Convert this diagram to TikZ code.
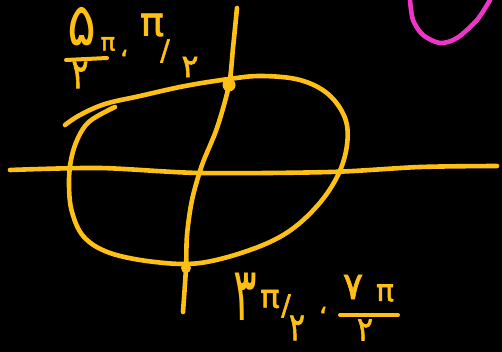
\documentclass[tikz,border=0pt]{standalone}
\usepackage{fontspec}
\newfontfamily\pf[Script=Arabic]{DejaVu Sans}
\newfontfamily\pft[Script=Arabic,FakeBold=1.8]{DejaVu Sans}
\definecolor{ink}{RGB}{255,192,22}
\definecolor{pinkink}{RGB}{240,52,200}
\newcommand{\gl}[3][1]{\fontsize{#2}{#2}\selectfont\scalebox{1}[#1]{#3}}
\begin{document}
\begin{tikzpicture}[x=1pt,y=-1pt,
  stroke/.style={draw=ink,line width=4.6pt,line cap=round,line join=round},
  glyph/.style={text=ink,inner sep=0pt,font=\pf},
  sglyph/.style={text=ink,inner sep=0pt,font=\pft},
  dot/.style={circle,fill=ink,inner sep=0pt,minimum size=#1}]
\fill[black] (0,0) rectangle (502,352);
\useasboundingbox (0,0) rectangle (502,352);
% horizontal axis
\coordinate (hl) at (10,170);
\coordinate (hr) at (497,166);
\draw[stroke] plot[smooth] coordinates {(hl) (100,168) (200,173) (330,172) (420,167) (hr)};
% vertical axis with marked points
\coordinate (vt) at (237,8);
\node[dot=13pt] (p1) at (229,85) {};
\node[dot=10pt] (p2) at (186,268) {};
\coordinate (vb) at (183,312);
\draw[stroke] plot[smooth] coordinates {(vt) (233,48) (p1.center) (217,128) (202,165) (192,200) (187,235) (p2.center) (vb)};
% closed curve
\draw[stroke] plot[smooth,tension=0.6] coordinates {(65,125) (80,115) (105,104) (140,96) (185,86) (229,79) (262,76) (300,80) (328,94) (345,118) (347,145) (338,175) (318,205) (288,232) (250,250) (200,263) (155,262) (110,253) (84,237) (72,212) (69,185) (71,160) (78,138) (90,121) (115,107)};
% pink stroke
\draw[draw=pinkink,line width=4.6pt,line cap=round] plot[smooth] coordinates {(410,0) (413,20) (423,35) (440,43) (457,38) (477,20) (490,0)};
% top label
\node[glyph] (t5) at (82,27) {\gl[1.1]{54}{۵}};
\node[sglyph] (tpa) at (108,44) {\gl{24}{π}};
\draw[stroke,line width=4pt] (66,60) -- (107,58);
\node[sglyph] (t2a) at (80,75) {\gl[1.3]{32}{۲}};
\node[sglyph] (tc) at (124,53) {\gl{26}{،}};
\node[sglyph] (tpb) at (152,25) {\gl{40}{π}};
\node[sglyph] (ts) at (165,51) {\gl{28}{/}};
\node[sglyph] (t2b) at (190,67) {\gl{32}{۲}};
% bottom label
\node[glyph] (b3) at (245,297) {\gl[1.7]{44}{۳}};
\node[sglyph] (bpa) at (270,299) {\gl{32}{π}};
\node[sglyph] (bs) at (286,306) {\gl{28}{/}};
\node[sglyph] (b2a) at (297,328) {\gl[1.3]{30}{۲}};
\node[sglyph] (bc) at (323,310) {\gl{26}{،}};
\node[sglyph] (b7) at (353,287) {\gl{38}{۷}};
\node[sglyph] (bpb) at (385,293) {\gl{30}{π}};
\draw[stroke,line width=4pt] (340,315) -- (398,315);
\node[sglyph] (b2b) at (365,330) {\gl[1.1]{30}{۲}};
\end{tikzpicture}
\end{document}
